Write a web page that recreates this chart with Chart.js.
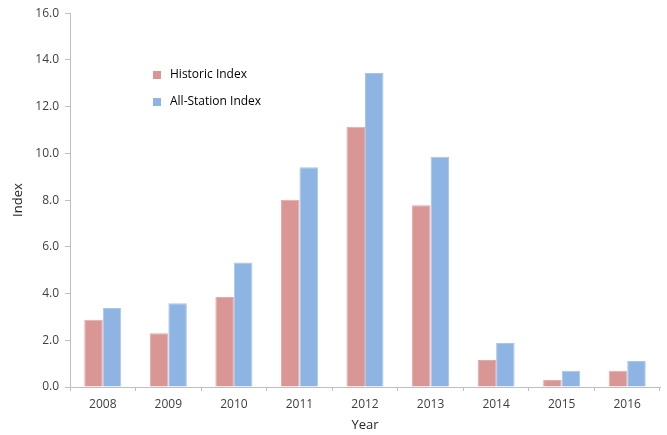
<!DOCTYPE html>
<html>
<head>
<meta charset="utf-8">
<script src="https://cdn.jsdelivr.net/npm/chart.js@4.4.0/dist/chart.umd.min.js"></script>
<style>
  html, body { margin: 0; padding: 0; background: #fff; }
  #box { width: 667px; height: 435px; }
</style>
</head>
<body>
<div id="box"><canvas id="grafico"></canvas></div>
<script>
const years = ['2008', '2009', '2010', '2011', '2012', '2013', '2014', '2015', '2016'];
const historicIndex = [2.88, 2.30, 3.85, 8.02, 11.14, 7.78, 1.16, 0.30, 0.70];
const allStationIndex = [3.38, 3.59, 5.33, 9.41, 13.44, 9.86, 1.88, 0.70, 1.11];
const yTicks = [0, 2, 4, 6, 8, 10, 12, 14, 16];

// legend drawn inside the plot, like the original
const insideLegend = {
  id: 'insideLegend',
  afterDraw(chart) {
    const ctx = chart.ctx;
    ctx.save();
    ctx.font = '12px "Open Sans", sans-serif';
    ctx.textBaseline = 'middle';
    chart.data.datasets.forEach(function (ds, i) {
      const y = 75 + i * 27;
      ctx.fillStyle = ds.backgroundColor;
      ctx.fillRect(153, y - 4, 8, 8);
      ctx.fillStyle = '#000';
      ctx.fillText(ds.label, 170, y);
    });
    ctx.restore();
  }
};

var chartdata = {
  labels: years,
  datasets: [
    {
      label: 'Historic Index',
      backgroundColor: '#D99694',
      borderColor: '#E3AAA8',
      borderWidth: 1,
      data: historicIndex
    },
    {
      label: 'All-Station Index',
      backgroundColor: '#8EB4E3',
      borderColor: '#A8C6EC',
      borderWidth: 1,
      data: allStationIndex
    }
  ]
};

var box = document.getElementById('grafico');
var grafico = new Chart(box, {
  type: 'bar',
  data: chartdata,
  plugins: [insideLegend],
  options: {
    responsive: true,
    maintainAspectRatio: false,
    animation: false,
    barPercentage: 1,
    categoryPercentage: 0.565,
    layout: { padding: { top: 13, right: 7, left: 0, bottom: 2 } },
    plugins: {
      legend: { display: false },
      tooltip: { enabled: false }
    },
    scales: {
      x: {
        grid: {
          offset: true,
          drawOnChartArea: false,
          color: '#BFBFBF',
          tickLength: 4
        },
        border: { color: '#BFBFBF' },
        ticks: {
          color: '#404040',
          font: { family: '"Open Sans", sans-serif', size: 12 },
          padding: 6,
          maxRotation: 0
        },
        title: {
          display: true,
          text: 'Year',
          color: '#262626',
          font: { family: '"Open Sans", sans-serif', size: 13 },
          padding: { top: 0, bottom: 0 }
        }
      },
      y: {
        min: 0,
        max: 16,
        afterFit: function (scale) { scale.width = 70; },
        afterBuildTicks: function (scale) {
          scale.ticks = yTicks.map(v => ({ value: v }));
        },
        grid: {
          drawOnChartArea: false,
          color: '#BFBFBF',
          tickLength: 5
        },
        border: { color: '#BFBFBF' },
        ticks: {
          color: '#404040',
          font: { family: '"Open Sans", sans-serif', size: 12 },
          padding: 6,
          callback: function (value) { return value.toFixed(1); }
        },
        title: {
          display: true,
          text: 'Index',
          color: '#262626',
          font: { family: '"Open Sans", sans-serif', size: 13 },
          padding: { top: 10, bottom: 4 }
        }
      }
    }
  }
});
</script>
</body>
</html>
